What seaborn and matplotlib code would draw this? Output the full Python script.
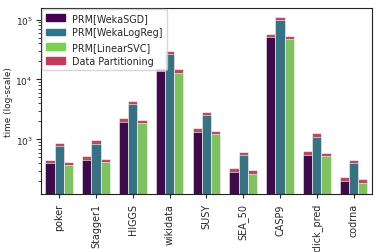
import numpy as np
import pandas as pd
import seaborn as sns
import matplotlib
matplotlib.use("Agg")
import matplotlib.pyplot as plt
from matplotlib.patches import Patch

datasets = ["poker", "Stagger1", "HIGGS", "wikidata", "SUSY",
            "SEA_50", "CASP9", "click_pred", "codrna"]
models = ["PRM[WekaSGD]", "PRM[WekaLogReg]", "PRM[LinearSVC]"]

# training time per model (seconds)
sgd_time = [398, 452, 1965, 13600, 1339, 288, 51300, 554, 204]
logreg_time = [764, 835, 3875, 26200, 2541, 547, 97300, 1105, 403]
svc_time = [373, 414, 1848, 12830, 1226, 264, 47500, 521, 189]

# data partitioning time stacked on top of each bar
sgd_part = [54, 69, 274, 2000, 186, 41, 7100, 84, 31]
logreg_part = [103, 127, 521, 3650, 365, 74, 14900, 169, 54]
svc_part = [50, 61, 251, 1850, 176, 40, 6600, 77, 29]

model_colors = ["#440154", "#2a788e", "#7ad151"]
part_color = "#c43b5c"

rows = []
for m, t, p in zip(models, [sgd_time, logreg_time, svc_time],
                   [sgd_part, logreg_part, svc_part]):
    for d, tv, pv in zip(datasets, t, p):
        rows.append({"dataset": d, "model": m, "time": tv, "total": tv + pv})
df = pd.DataFrame(rows)

sns.set_style("ticks")
plt.rcParams["font.family"] = ["DejaVu Sans"]
fs = 6.9

fig, ax = plt.subplots(figsize=(3.82, 2.53), dpi=100)
ax.set_yscale("log")

# totals first (red shows above each model bar)
sns.barplot(data=df, x="dataset", y="total", hue="model", hue_order=models,
            palette=[part_color] * 3, width=0.75, ax=ax, legend=False,
            edgecolor="white", linewidth=0.4, errorbar=None)
sns.barplot(data=df, x="dataset", y="time", hue="model", hue_order=models,
            palette=model_colors, width=0.75, ax=ax, legend=False,
            edgecolor="white", linewidth=0.4, errorbar=None)

ax.set_ylim(122, 154000)
ax.set_xlabel("")
ax.set_ylabel("time (log-scale)", fontsize=6.4, labelpad=2)
ax.tick_params(axis="x", labelrotation=90, labelsize=fs, length=3)
ax.tick_params(axis="y", labelsize=6.5, pad=2.5)
for s in ax.spines.values():
    s.set_visible(True)
    s.set_color("#222222")
    s.set_linewidth(0.8)

handles = [Patch(color=c) for c in model_colors] + [Patch(color=part_color)]
labels = models + ["Data Partitioning"]
ax.legend(handles, labels, loc="upper left", fontsize=fs,
          borderaxespad=0.1, frameon=True, labelspacing=0.45)

plt.subplots_adjust(left=0.107, right=0.974, top=0.963, bottom=0.229)
plt.savefig("out.png", dpi=100)
